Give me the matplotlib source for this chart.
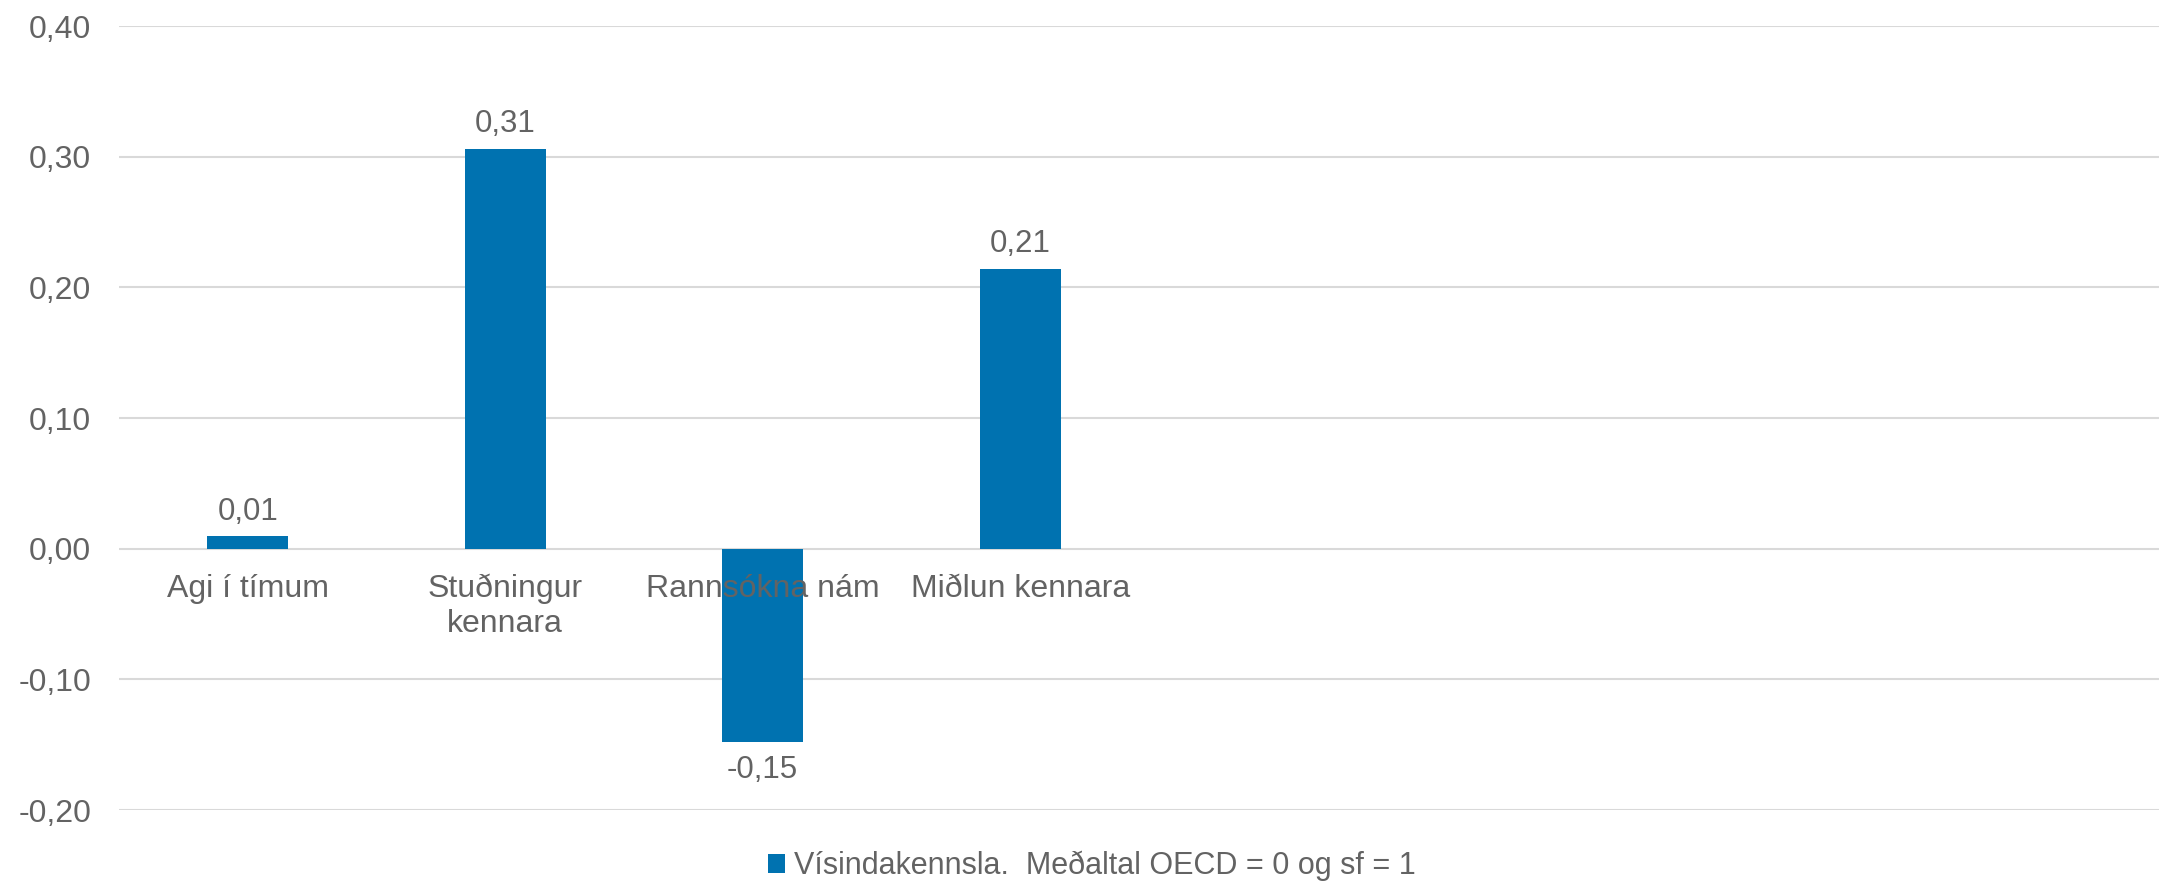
import matplotlib.pyplot as plt
from matplotlib.patches import Patch

# --- Data ---------------------------------------------------------------------
CATEGORIES = ["Agi í tímum", "Stuðningur\nkennara", "Rannsókna nám", "Miðlun kennara"]
VALUES = [0.0094, 0.306, -0.148, 0.214]
SERIES = "Vísindakennsla.  Meðaltal OECD = 0 og sf = 1"
YTICKS = [-0.20, -0.10, 0.00, 0.10, 0.20, 0.30, 0.40]

BLUE = "#0072B0"
TXT = "#636363"
GRID = "#D9D9D9"

plt.rcParams['font.family'] = ['Liberation Sans', 'DejaVu Sans']

fmt = lambda v: f"{v:.2f}".replace(".", ",")

# --- Plot ---------------------------------------------------------------------
fig = plt.figure(figsize=(21.59, 8.83), dpi=100)
ax = fig.add_axes([119 / 2159, 1 - 810 / 883, (2159 - 119) / 2159, (810 - 26) / 883])

# gridlines under the bars
for t in YTICKS:
    ax.axhline(t, color=GRID, linewidth=1.5, zorder=0)

x = list(range(len(CATEGORIES)))
ax.bar(x, VALUES, width=81 / 257.5, color=BLUE, zorder=1)

# data labels
for xi, v in zip(x, VALUES):
    if v >= 0:
        ax.annotate(fmt(v), xy=(xi, v), xytext=(0, 7), textcoords='offset points',
                    ha='center', va='bottom', fontsize=22.5, color=TXT)
    else:
        ax.annotate(fmt(v), xy=(xi, v), xytext=(0, -9), textcoords='offset points',
                    ha='center', va='top', fontsize=22.5, color=TXT)

ax.set_xlim(-0.5, (2159 - 247.5) / 257.5)
ax.set_ylim(-0.20, 0.40)
ax.set_yticks(YTICKS)
ax.set_yticklabels([fmt(t) for t in YTICKS])
ax.set_xticks(x)
ax.set_xticklabels(CATEGORIES, linespacing=1.3)

ax.tick_params(axis='y', length=0, pad=20, labelsize=23, labelcolor=TXT)
ax.tick_params(axis='x', length=0, pad=18, labelsize=23, labelcolor=TXT)
for s in ax.spines.values():
    s.set_visible(False)

# x tick labels hang from the zero line
ax.spines['bottom'].set_position(('data', 0))

handle = Patch(facecolor=BLUE, edgecolor='none')
fig.legend([handle], [SERIES], loc='center', bbox_to_anchor=(1092 / 2159, 1 - 866 / 883),
           frameon=False, fontsize=22, labelcolor=TXT, handlelength=0.55,
           handleheight=0.55, handletextpad=0.3)

plt.savefig('out.png', dpi=100)
